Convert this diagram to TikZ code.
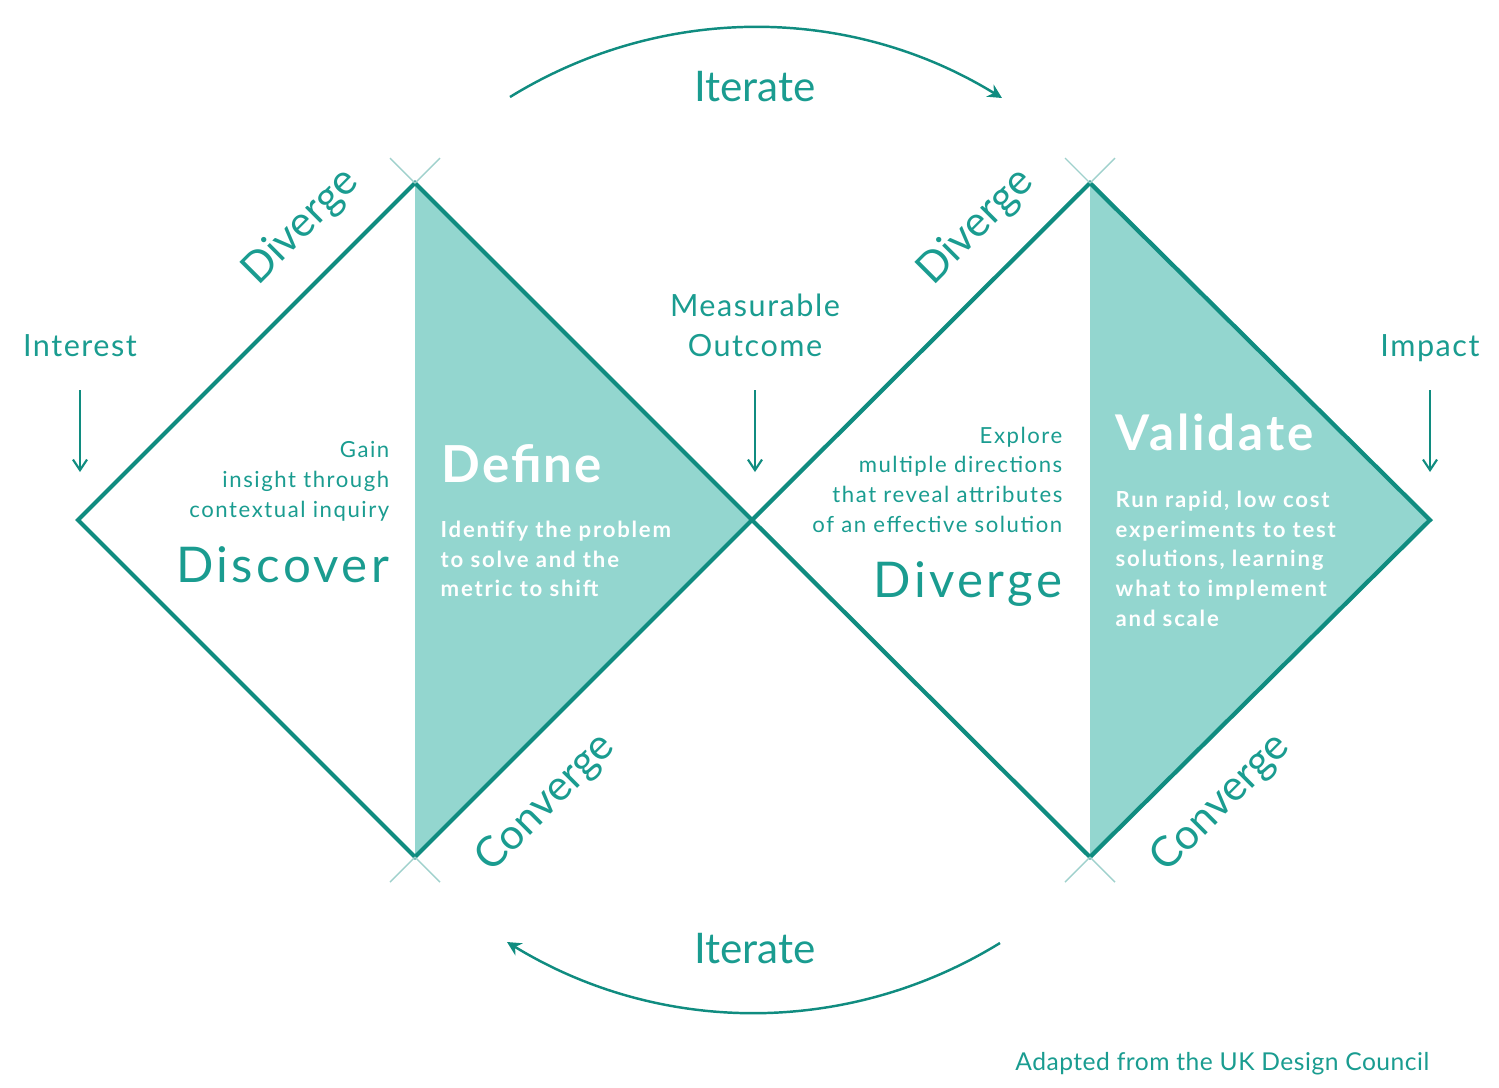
\documentclass[tikz,border=0pt]{standalone}
\usepackage{fontspec}
\setmainfont{Lato}
\usetikzlibrary{arrows.meta}
\definecolor{dcline}{HTML}{108C80}
\definecolor{dctext}{HTML}{1A9C90}
\definecolor{dcfill}{HTML}{93D6CF}
\begin{document}
\begin{tikzpicture}[x=0.01cm,y=-0.01cm,
  edge/.style={dcline,line width=1.2pt,line join=miter},
  tick/.style={dcline!40,line width=0.4pt},
  txt/.style={dctext,inner sep=0pt},
  big/.style={txt,font=\fontsize{14}{16}\selectfont\addfontfeatures{LetterSpace=7}},
  mid/.style={txt,font=\fontsize{12}{14}\selectfont},
  small/.style={txt,font=\fontsize{8.7}{11.4}\selectfont\addfontfeatures{LetterSpace=5}},
  tiny/.style={txt,font=\fontsize{6.3}{8.5}\selectfont\addfontfeatures{LetterSpace=7}},
  tinybold/.style={txt,white,font=\fontsize{6.3}{8.5}\selectfont\bfseries\addfontfeatures{LetterSpace=8}},
  downarrow/.style={dcline,line width=0.6pt,-{Straight Barb[length=3pt,width=4pt]}},
  looparrow/.style={dcline,line width=0.7pt,-{Stealth[length=4pt,width=4pt]}}]
\useasboundingbox (0,0) rectangle (1499,1087);
\coordinate (lw) at (78,520);
\coordinate (ln) at (415,183);
\coordinate (mc) at (752,520);
\coordinate (ls) at (415,857);
\coordinate (rn) at (1090,183);
\coordinate (re) at (1430,520);
\coordinate (rs) at (1090,857);
\fill[dcfill] (ln) -- (mc) -- (ls) -- cycle;
\fill[dcfill] (rn) -- (re) -- (rs) -- cycle;
\draw[edge] (lw) -- (ln) -- (mc) -- (ls) -- cycle;
\draw[edge] (mc) -- (rn) -- (re) -- (rs) -- cycle;
\draw[tick] (ln) -- ++(25,-25); \draw[tick] (ln) -- ++(-25,-25);
\draw[tick] (ls) -- ++(25,25);  \draw[tick] (ls) -- ++(-25,25);
\draw[tick] (rn) -- ++(25,-25); \draw[tick] (rn) -- ++(-25,-25);
\draw[tick] (rs) -- ++(25,25);  \draw[tick] (rs) -- ++(-25,25);
\node[mid,anchor=base] (itertop) at (755,101) {Iterate};
\node[mid,anchor=base] (iterbot) at (755,963) {Iterate};
\coordinate (toparcA) at (510,97);
\coordinate (toparcB) at (1002,98);
\coordinate (botarcA) at (1000,943);
\coordinate (botarcB) at (507,942);
\draw[looparrow] (toparcA) .. controls (661,4) and (849,4) .. (toparcB);
\draw[looparrow] (botarcA) .. controls (849,1036) and (661,1036) .. (botarcB);
\node[mid,rotate=45] (divL) at (301,227) {Diverge};
\node[mid,rotate=45] (divR) at (976,227) {Diverge};
\node[mid,rotate=45] (convL) at (546,803) {Converge};
\node[mid,rotate=45] (convR) at (1221,803) {Converge};
\node[small,anchor=base] (interest) at (80,356) {Interest};
\node[small,align=center] (outcome) at (755,325) {Measurable\\Outcome};
\node[small,anchor=base] (impact) at (1430,356) {Impact};
\coordinate (interestA) at (80,390); \coordinate (interestB) at (80,472);
\coordinate (outcomeA) at (755,390); \coordinate (outcomeB) at (755,472);
\coordinate (impactA) at (1430,390); \coordinate (impactB) at (1430,472);
\draw[downarrow] (interestA) -- (interestB);
\draw[downarrow] (outcomeA) -- (outcomeB);
\draw[downarrow] (impactA) -- (impactB);
\node[tiny,align=right,anchor=north east] (gain) at (390,441) {Gain\\insight through\\contextual inquiry};
\node[big,anchor=base east] (discover) at (390,582) {Discover};
\node[txt,white,font=\fontsize{14.5}{16}\selectfont\bfseries\addfontfeatures{LetterSpace=4},anchor=base west] (define) at (441,482) {Define};
\node[tinybold,align=left,anchor=north west] (identify) at (440,520) {Identify the problem\\to solve and the\\metric to shift};
\node[tiny,align=right,anchor=north east] (explore) at (1063,426) {Explore\\multiple directions\\that reveal attributes\\of an effective solution};
\node[big,anchor=base east] (diverge) at (1063,597) {Diverge};
\node[txt,white,font=\fontsize{14}{16}\selectfont\bfseries\addfontfeatures{LetterSpace=6},anchor=base west] (validate) at (1115,450) {Validate};
\node[tinybold,align=left,anchor=north west] (runrapid) at (1115,490) {Run rapid, low cost\\experiments to test\\solutions, learning\\what to implement\\and scale};
\node[txt,font=\fontsize{7}{8}\selectfont\addfontfeatures{LetterSpace=2},anchor=base east] (credit) at (1430,1070) {Adapted from the UK Design Council};
\end{tikzpicture}
\end{document}
